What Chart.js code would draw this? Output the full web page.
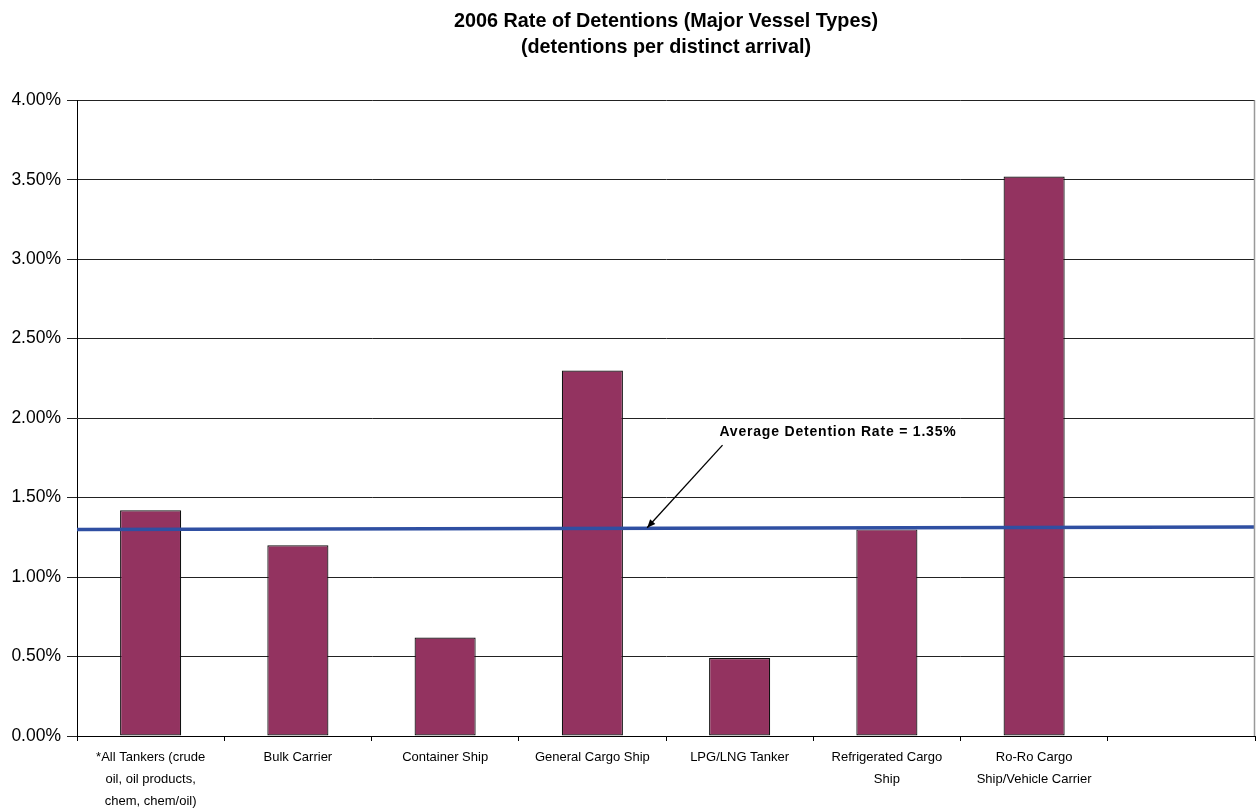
<!DOCTYPE html>
<html>
<head>
<meta charset="utf-8">
<script src="https://cdn.jsdelivr.net/npm/chart.js@4"></script>
<style>
  html, body { margin: 0; padding: 0; background: #fff; }
  #wrap { width: 1257px; height: 809px; }
</style>
</head>
<body>
<div id="wrap"><canvas id="c" width="1257" height="809"></canvas></div>
<script>
const titleLines = ['2006 Rate of Detentions (Major Vessel Types)', '(detentions per distinct arrival)'];
const categories = [
  ['*All Tankers (crude', 'oil, oil products,', 'chem, chem/oil)'],
  'Bulk Carrier',
  'Container Ship',
  'General Cargo Ship',
  'LPG/LNG Tanker',
  ['Refrigerated Cargo', 'Ship'],
  ['Ro-Ro Cargo', 'Ship/Vehicle Carrier'],
  ''
];
const detentionRates = [1.42, 1.20, 0.62, 2.30, 0.49, 1.30, 3.52, null];
const avgLineX = [0, 1];
const avgLineY = [1.30, 1.315];
const yTicks = [0, 0.5, 1, 1.5, 2, 2.5, 3, 3.5, 4];
const annotationText = 'Average Detention Rate = 1.35%';
const annotationTextAt = [0.646, 1.915];
const annotationArrowFrom = [0.548, 1.83];
const annotationArrowTo = [0.484, 1.31];

const FONT = '"Liberation Sans", Arial, sans-serif';

const extras = {
  id: 'extras',
  afterDatasetsDraw(chart) {
    const ctx = chart.ctx;
    const a = chart.chartArea;
    const sx = chart.scales.x2, sy = chart.scales.y;
    ctx.save();
    // right border of plot area
    ctx.strokeStyle = '#999';
    ctx.lineWidth = 1.5;
    ctx.beginPath();
    ctx.moveTo(Math.round(a.right) - 0.5, a.top);
    ctx.lineTo(Math.round(a.right) - 0.5, a.bottom);
    ctx.stroke();
    // annotation text
    ctx.fillStyle = '#000';
    ctx.font = 'bold 14px ' + FONT;
    if ('letterSpacing' in ctx) ctx.letterSpacing = '0.8px';
    ctx.textAlign = 'center';
    ctx.textBaseline = 'middle';
    ctx.fillText(annotationText, sx.getPixelForValue(annotationTextAt[0]), sy.getPixelForValue(annotationTextAt[1]));
    if ('letterSpacing' in ctx) ctx.letterSpacing = '0px';
    // arrow
    const x1 = sx.getPixelForValue(annotationArrowFrom[0]), y1 = sy.getPixelForValue(annotationArrowFrom[1]);
    const x2 = sx.getPixelForValue(annotationArrowTo[0]), y2 = sy.getPixelForValue(annotationArrowTo[1]);
    ctx.strokeStyle = '#000';
    ctx.lineWidth = 1.3;
    ctx.beginPath();
    ctx.moveTo(x1, y1);
    ctx.lineTo(x2, y2);
    ctx.stroke();
    const ang = Math.atan2(y2 - y1, x2 - x1);
    const L = 9, W = 0.4;
    ctx.beginPath();
    ctx.moveTo(x2, y2);
    ctx.lineTo(x2 - L * Math.cos(ang - W), y2 - L * Math.sin(ang - W));
    ctx.lineTo(x2 - L * Math.cos(ang + W), y2 - L * Math.sin(ang + W));
    ctx.closePath();
    ctx.fillStyle = '#000';
    ctx.fill();
    ctx.restore();
  }
};

new Chart(document.getElementById('c'), {
  type: 'bar',
  data: {
    labels: categories,
    datasets: [
      {
        type: 'line',
        label: 'Average',
        data: avgLineX.map((x, i) => ({ x: x, y: avgLineY[i] })),
        xAxisID: 'x2',
        yAxisID: 'y',
        borderColor: '#2F4FA2',
        borderWidth: 3.5,
        pointRadius: 0,
        fill: false,
        order: 0
      },
      {
        type: 'bar',
        label: 'Rate',
        data: detentionRates,
        xAxisID: 'x',
        yAxisID: 'y',
        backgroundColor: '#933360',
        borderColor: '#111',
        borderWidth: 1.2,
        borderSkipped: false,
        grouped: false,
        barPercentage: 0.415,
        categoryPercentage: 1.0,
        order: 1
      }
    ]
  },
  options: {
    responsive: false,
    animation: false,
    devicePixelRatio: 1,
    layout: { padding: { left: 0, right: 2, top: 0, bottom: 0 } },
    plugins: {
      legend: { display: false },
      tooltip: { enabled: false },
      title: {
        display: true,
        text: titleLines,
        fullSize: false,
        color: '#000',
        font: { family: FONT, size: 19.8, weight: 'bold', lineHeight: 1.32 },
        padding: { top: 8, bottom: 40 }
      }
    },
    scales: {
      x: {
        type: 'category',
        offset: true,
        grid: { display: true, drawOnChartArea: false, drawTicks: true, tickLength: 5, color: '#000', offset: true },
        border: { display: true, color: '#000', width: 1 },
        ticks: {
          color: '#000',
          font: { family: FONT, size: 13, lineHeight: 1.68 },
          maxRotation: 0,
          autoSkip: false,
          padding: 6
        },
        afterFit(scale) { scale.height = 73; }
      },
      x2: {
        type: 'linear',
        min: 0,
        max: 1,
        offset: false,
        grid: { offset: false },
        display: false
      },
      y: {
        min: 0,
        max: 4,
        afterBuildTicks(scale) { scale.ticks = yTicks.map(v => ({ value: v })); },
        grid: { color: '#222', lineWidth: 1, tickLength: 10, drawTicks: true },
        border: { display: true, color: '#000', width: 1 },
        ticks: {
          color: '#000',
          font: { family: FONT, size: 17.5 },
          padding: 6,
          callback: (v) => Number(v).toFixed(2) + '%'
        },
        afterFit(scale) { scale.width = 77; }
      }
    }
  },
  plugins: [extras]
});
</script>
</body>
</html>
